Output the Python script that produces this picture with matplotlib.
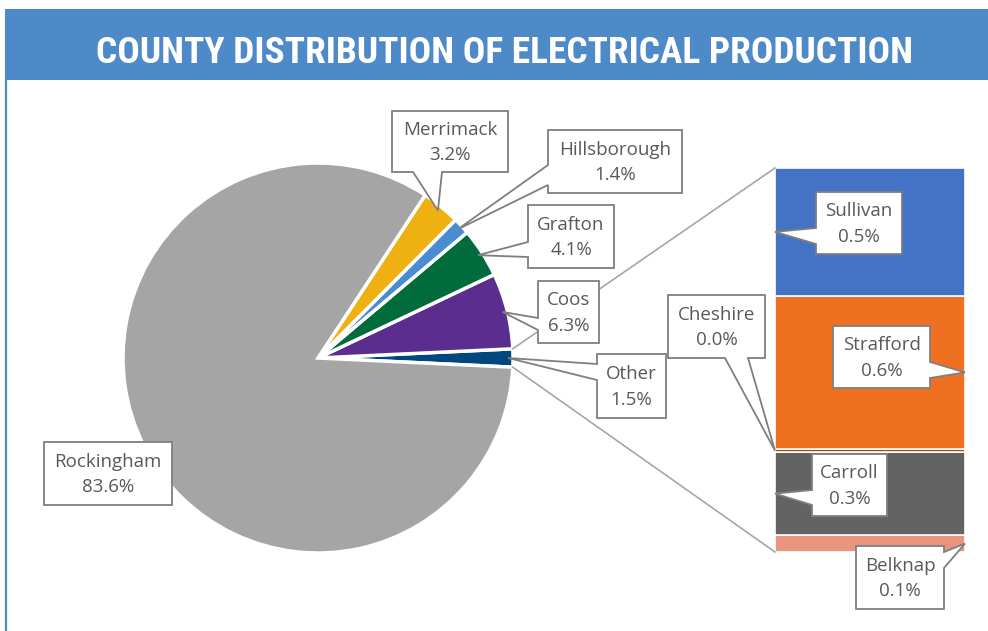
import matplotlib
matplotlib.use("Agg")
import matplotlib.pyplot as plt
from matplotlib.patches import Polygon, Rectangle
import numpy as np

# ---------------- data ----------------
title = "COUNTY DISTRIBUTION OF ELECTRICAL PRODUCTION"

pie_labels = ["Rockingham", "Merrimack", "Hillsborough", "Grafton", "Coos"]
pie_values = [83.6, 3.2, 1.4, 4.1, 6.3]
pie_colors = ["#A5A5A5", "#EEB111", "#4A8CD3", "#006C3B", "#5B2D8E"]
other_label = "Other"
other_color = "#00477F"

bar_labels = ["Sullivan", "Strafford", "Cheshire", "Carroll", "Belknap"]
bar_values = [0.50, 0.60, 0.012, 0.325, 0.066]
bar_colors = ["#4472C4", "#F07022", "#9E480E", "#636363", "#E8957F"]

# ---------------- layout ----------------
W, H = 988, 631
fig = plt.figure(figsize=(W / 100, H / 100), dpi=100)
fig.patch.set_facecolor("white")

BLUE = "#4E8AC8"
TXT = "#595959"
EDGE = "#7F7F7F"
FONT = ["Open Sans", "DejaVu Sans"]

# pie axes (center 318,358 px from top, radius 195)
cx, cy, r = 318, 358, 195
ax_pie = fig.add_axes([(cx - r) / W, (H - cy - r) / H, 2 * r / W, 2 * r / H])
other_value = sum(bar_values)
all_labels = pie_labels + [other_label]
all_values = pie_values + [other_value]
all_colors = pie_colors + [other_color]
order = list(range(len(all_values)))[::-1]   # Other first, counterclockwise
total = sum(all_values)
start = -other_value / total * 360 / 2
wedges, _ = ax_pie.pie([all_values[i] for i in order],
                       colors=[all_colors[i] for i in order],
                       startangle=start, counterclock=True, radius=1,
                       wedgeprops=dict(edgecolor="white", linewidth=2.5))
ax_pie.set_aspect("auto")
ax_pie.set_xlim(-1, 1)
ax_pie.set_ylim(-1, 1)
ax_pie.axis("off")
wedge_by_label = {all_labels[i]: w for i, w in zip(order, wedges)}

# bar axes (x 775-965, y 168-552 px)
ax_bar = fig.add_axes([775 / W, (H - 552) / H, 190 / W, 384 / H])
bar_total = sum(bar_values)
bottom = 0.0
bar_mid = {}
for lab, v, c in list(zip(bar_labels, bar_values, bar_colors))[::-1]:
    ax_bar.bar(0, v, bottom=bottom, width=1, color=c, edgecolor="white", linewidth=1.2)
    bar_mid[lab] = bottom + v / 2
    bottom += v
ax_bar.set_xlim(-0.5, 0.5)
ax_bar.set_ylim(0, bar_total)
ax_bar.axis("off")

# overlay axes in pixel coordinates
ov = fig.add_axes([0, 0, 1, 1], zorder=5)
ov.set_xlim(0, W)
ov.set_ylim(H, 0)
ov.axis("off")
ov.patch.set_alpha(0)


def to_px(ax, x, y):
    d = ax.transData.transform((x, y))
    return ov.transData.inverted().transform(d)


# title banner and left border
ov.add_patch(Rectangle((5, 9), W - 5, 71, facecolor=BLUE, edgecolor="none", zorder=1))
ov.plot([6, 6], [80, H], color=BLUE, lw=1.6, zorder=1, solid_capstyle="butt")
t = ov.text((97 + 912) / 2, 63, title, ha="center", va="baseline", color="white",
            fontsize=30, fontweight="bold", fontstretch="condensed",
            family=["Roboto Condensed", "Liberation Sans Narrow", "DejaVu Sans"], zorder=3)
fig.canvas.draw()
bb = t.get_window_extent()
t.set_fontsize(30 * 815 / bb.width)

# connector lines
ow = wedge_by_label[other_label]
p_top = to_px(ax_pie, np.cos(np.radians(ow.theta2)), np.sin(np.radians(ow.theta2)))
p_bot = to_px(ax_pie, np.cos(np.radians(ow.theta1)), np.sin(np.radians(ow.theta1)))
b_top = to_px(ax_bar, -0.5, bar_total)
b_bot = to_px(ax_bar, -0.5, 0)
ov.plot([p_top[0], b_top[0]], [p_top[1], b_top[1]], color="#A6A6A6", lw=1.2, zorder=2)
ov.plot([p_bot[0], b_bot[0]], [p_bot[1], b_bot[1]], color="#A6A6A6", lw=1.2, zorder=2)

# callout geometry (pixel boxes, pointer side and base)
callouts = {
    "Rockingham": ((44, 442, 172, 505), None, None),
    "Merrimack": ((392, 111, 508, 172), "bottom", (413, 442)),
    "Hillsborough": ((548, 130, 682, 193), "left", (165, 185)),
    "Grafton": ((528, 205, 614, 268), "left", (242, 257)),
    "Coos": ((538, 281, 599, 343), "left", (318, 330)),
    "Other": ((597, 354, 666, 418), "left", (364, 380)),
    "Sullivan": ((816, 192, 902, 254), "left", (228, 244)),
    "Strafford": ((833, 326, 930, 388), "right", (362, 378)),
    "Cheshire": ((668, 295, 765, 358), "bottom", (725, 748)),
    "Carroll": ((812, 454, 887, 516), "left", (490, 505)),
    "Belknap": ((856, 546, 944, 609), "right", (552, 568)),
}
bar_tip_side = {"Sullivan": -0.5, "Strafford": 0.5, "Cheshire": -0.5,
                "Carroll": -0.5, "Belknap": 0.5}


def tip_for(lab):
    if lab in wedge_by_label:
        w = wedge_by_label[lab]
        a = np.radians((w.theta1 + w.theta2) / 2)
        return to_px(ax_pie, 0.975 * np.cos(a), 0.975 * np.sin(a))
    return to_px(ax_bar, bar_tip_side[lab], bar_mid[lab])


values_map = dict(zip(all_labels, all_values))
values_map.update(dict(zip(bar_labels, bar_values)))

for lab, (box, side, base) in callouts.items():
    x0, y0, x1, y1 = box
    if side is None:
        pts = [(x0, y0), (x1, y0), (x1, y1), (x0, y1)]
    else:
        tp = tuple(tip_for(lab))
        b0, b1 = base
        if side == "left":
            pts = [(x0, y0), (x1, y0), (x1, y1), (x0, y1), (x0, b1), tp, (x0, b0)]
        elif side == "right":
            pts = [(x0, y0), (x1, y0), (x1, b0), tp, (x1, b1), (x1, y1), (x0, y1)]
        else:  # bottom
            pts = [(x0, y0), (x1, y0), (x1, y1), (b1, y1), tp, (b0, y1), (x0, y1)]
    ov.add_patch(Polygon(pts, closed=True, facecolor="white", edgecolor=EDGE,
                         lw=1.3, zorder=6, joinstyle="miter"))
    ov.text((x0 + x1) / 2, (y0 + y1) / 2 + 1, f"{lab}\n{values_map[lab]:.1f}%",
            ha="center", va="center", ma="center", color=TXT, fontsize=13.5,
            family=FONT, linespacing=1.55, zorder=7)

fig.savefig("out.png", dpi=100, facecolor="white")
